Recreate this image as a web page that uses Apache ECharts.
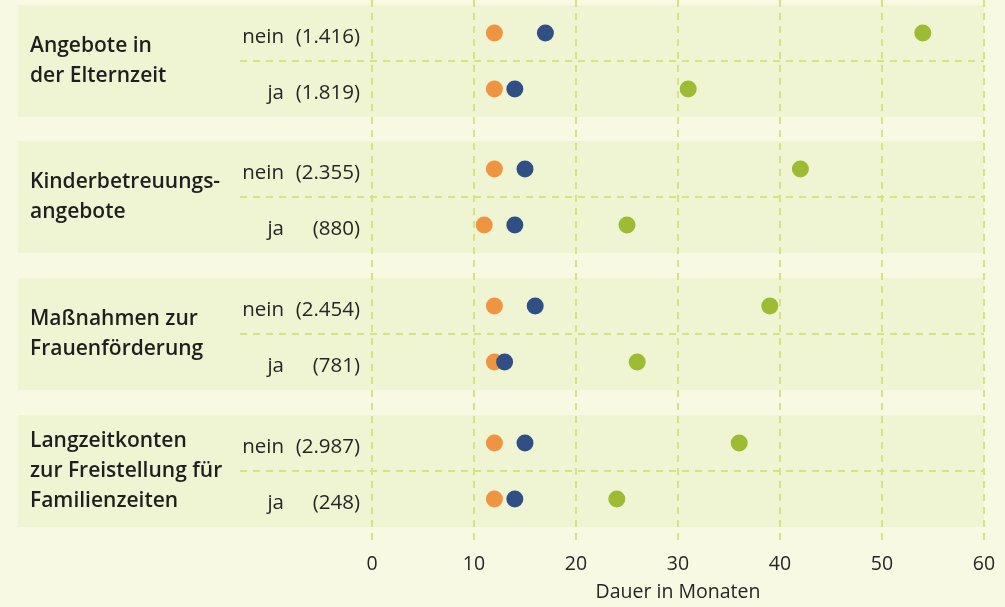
<!DOCTYPE html>
<html>
<head>
<meta charset="utf-8">
<script src="https://cdn.jsdelivr.net/npm/echarts@6/dist/echarts.min.js"></script>
<style>
html,body{margin:0;padding:0;background:#f7f9e3;}
#c{width:1005px;height:607px;}
</style>
</head>
<body>
<div id="c"></div>
<script>
// ---- data ----
const groups = ['Angebote in\nder Elternzeit', 'Kinderbetreuungs-\nangebote', 'Maßnahmen zur\nFrauenförderung', 'Langzeitkonten\nzur Freistellung für\nFamilienzeiten'];
const answers = ['nein', 'ja'];
const counts = [['1.416', '1.819'], ['2.355', '880'], ['2.454', '781'], ['2.987', '248']];
const seriesOrange = [[12, 12], [12, 11], [12, 12], [12, 12]];
const seriesBlue = [[17, 14], [15, 14], [16, 13], [15, 14]];
const seriesGreen = [[54, 31], [42, 25], [39, 26], [36, 24]];
const xTicks = [0, 10, 20, 30, 40, 50, 60];
const xTitle = 'Dauer in Monaten';

// ---- layout ----
const W = 1005, H = 607;
const gridLeft = 372, gridRight = 21;
const bandLeft = 18;
const groupTops = [5, 141, 278, 415];
const groupH = 112;
const FONT = '"Open Sans", sans-serif';
const dash = '#d5e47f';
const colors = { orange: '#ef9541', blue: '#2f4f85', green: '#9dbb33' };

const grids = [], xAxes = [], yAxes = [], series = [], graphics = [];

groupTops.forEach((top, g) => {
  grids.push({ left: gridLeft, right: gridRight, top: top, height: groupH, containLabel: false });
  xAxes.push({
    type: 'value', gridIndex: g, min: xTicks[0], max: xTicks[xTicks.length - 1], interval: 10,
    axisLine: { show: false }, axisTick: { show: false }, axisLabel: { show: false }, splitLine: { show: false }
  });
  // row labels (nein / ja with counts)
  yAxes.push({
    type: 'category', gridIndex: g, inverse: true,
    data: answers,
    axisLine: { show: false }, axisTick: { show: false }, splitLine: { show: false },
    axisLabel: {
      margin: 12,
      formatter: (v, i) => '{n|' + answers[i] + '}{c|(' + counts[g][i] + ')}',
      rich: {
        n: { width: 50, align: 'right', fontSize: 20.5, fontFamily: FONT, color: '#262626', padding: [9, 0, 0, 0] },
        c: { width: 76, align: 'right', fontSize: 20.5, fontFamily: FONT, color: '#262626', padding: [9, 0, 0, 0] }
      }
    }
  });
  // group label axis
  yAxes.push({
    type: 'category', gridIndex: g, data: [groups[g]], position: 'left',
    axisLine: { show: false }, axisTick: { show: false }, splitLine: { show: false },
    axisLabel: {
      margin: gridLeft - 30, align: 'left', fontSize: 21, fontWeight: 600, lineHeight: 30,
      fontFamily: FONT, color: '#1f1f1f', padding: [4, 0, 0, 0]
    }
  });
  const yi = g * 2;
  const mk = (name, vals, color) => ({
    name: name, type: 'scatter', xAxisIndex: g, yAxisIndex: yi,
    symbolSize: 17, itemStyle: { color: color, opacity: 1 },
    data: vals.map((v, i) => [v, answers[i]]), z: 5
  });
  series.push(mk('Reihe 1', seriesOrange[g], colors.orange));
  series.push(mk('Reihe 2', seriesGreen[g], colors.green));
  series.push(mk('Reihe 3', seriesBlue[g], colors.blue));
  // band background
  graphics.push({
    type: 'rect', z: -10, silent: true,
    shape: { x: bandLeft, y: top, width: W - gridRight - bandLeft, height: groupH },
    style: { fill: '#eff4d3' }
  });
  // separator between nein / ja
  graphics.push({
    type: 'line', z: 1, silent: true,
    shape: { x1: 240, y1: top + groupH / 2, x2: W - gridRight, y2: top + groupH / 2 },
    style: { stroke: dash, lineWidth: 2, lineDash: [7, 6] }
  });
});

// overall axis grid for vertical lines and tick labels
const gAll = groupTops.length;
grids.push({ left: gridLeft, right: gridRight, top: 0, bottom: 56 });
xAxes.push({
  type: 'value', gridIndex: gAll, min: xTicks[0], max: xTicks[xTicks.length - 1], interval: 10,
  axisLine: { show: false }, axisTick: { show: false },
  axisLabel: { margin: 10, fontSize: 19.5, fontFamily: FONT, color: '#262626', formatter: v => xTicks.includes(v) ? String(v) : '' },
  splitLine: { show: true, lineStyle: { color: dash, width: 2, type: [7, 6] } },
  name: xTitle, nameLocation: 'middle', nameGap: 38,
  nameTextStyle: { fontSize: 19.5, fontFamily: FONT, color: '#262626' }
});
yAxes.push({ type: 'value', gridIndex: gAll, show: false });

const chart = echarts.init(document.getElementById('c'), null, { renderer: 'canvas' });
chart.setOption({
  backgroundColor: '#f7f9e3',
  animation: false,
  grid: grids, xAxis: xAxes, yAxis: yAxes, series: series,
  graphic: graphics
});
</script>
</body>
</html>
